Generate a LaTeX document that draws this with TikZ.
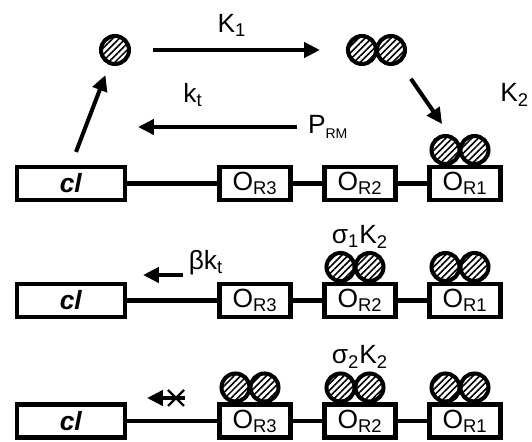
\documentclass[tikz,border=0pt]{standalone}
\usepackage{fontspec}
\setmainfont{Liberation Sans}
\usetikzlibrary{arrows.meta,patterns.meta}

% two beads sitting on top of a box
\newcommand{\dimeron}[2]{%
\coordinate (#1) at ([xshift=-0.1cm,yshift=0.3cm]#2.north);
\node[bead] (#1a) at ([xshift=-0.29cm]#1) {};
\node[bead] (#1b) at ([xshift=0.29cm]#1) {};}

\begin{document}
\begin{tikzpicture}[x=0.02cm, y=-0.02cm, line width=2.3pt,
  every node/.style={font=\fontsize{15}{18}\selectfont},
  box/.style={draw,rectangle,minimum width=1.42cm,minimum height=0.66cm,inner sep=0pt},
  long box/.style={box,minimum width=2.16cm},
  bead/.style={circle,draw,minimum size=0.56cm,inner sep=0pt,pattern={Lines[angle=45,distance=2.6pt,line width=0.9pt]}},
  arr/.style={-{Triangle[length=9pt,width=8.5pt]}}]
\useasboundingbox (0,0) rectangle (532,442);

\begin{scope}
\node[long box] (cl1) at (71,183.5) {\textbf{\textit{cl}}};
\node[box] (or31) at (255,183.5) {O\textsubscript{R3}};
\node[box] (or21) at (360,183.5) {O\textsubscript{R2}};
\node[box] (or11) at (465,183.5) {O\textsubscript{R1}};
\node[long box] (cl2) at (71,300.5) {\textbf{\textit{cl}}};
\node[box] (or32) at (255,300.5) {O\textsubscript{R3}};
\node[box] (or22) at (360,300.5) {O\textsubscript{R2}};
\node[box] (or12) at (465,300.5) {O\textsubscript{R1}};
\node[long box] (cl3) at (71,421) {\textbf{\textit{cl}}};
\node[box] (or33) at (255,421) {O\textsubscript{R3}};
\node[box] (or23) at (360,421) {O\textsubscript{R2}};
\node[box] (or13) at (465,421) {O\textsubscript{R1}};
\end{scope}

\begin{scope}
\draw (cl1) -- (or31); \draw (or31) -- (or21); \draw (or21) -- (or11);
\draw (cl2) -- (or32); \draw (or32) -- (or22); \draw (or22) -- (or12);
\draw (cl3) -- (or33); \draw (or33) -- (or23); \draw (or23) -- (or13);
\end{scope}

\node[bead] (mono) at (115,50) {};
\node[bead] (di1) at (362,50) {};
\node[bead] (di2) at (391,50) {};
\dimeron{p1}{or11}
\dimeron{p2}{or22}
\dimeron{q2}{or12}
\dimeron{p3}{or33}
\dimeron{q3}{or23}
\dimeron{r3}{or13}

\draw[arr, shorten <=0.46cm, shorten >=0.52cm] (mono) -- (di1);
\draw[arr, shorten <=0.38cm, shorten >=0.63cm] (di2) -- (p1);
\draw[arr, shorten <=0.28cm, shorten >=0.24cm] (cl1.north) -- (mono);

\coordinate (kt tail) at (297,127);
\coordinate (kt head) at (138,127);
\draw[arr] (kt tail) -- (kt head);
\coordinate (bkt tail) at (183,275);
\coordinate (bkt head) at (143,275);
\draw[arr] (bkt tail) -- (bkt head);
\coordinate (blk tail) at (185,398);
\coordinate (blk head) at (147,398);
\draw[arr] (blk tail) -- (blk head);
\coordinate (cross) at (176,398);
\draw[line width=1.4pt] ([shift={(-8,-8)}]cross) -- ([shift={(8,8)}]cross);
\draw[line width=1.4pt] ([shift={(-8,8)}]cross) -- ([shift={(8,-8)}]cross);

\node (k1) at (232,25) {K\textsubscript{1}};
\node[anchor=east,inner sep=0pt] (k2) at (531,95) {K\textsubscript{2}};
\node (kt) at (193,95) {k\textsubscript{t}};
\node[anchor=west,inner sep=0pt] (prm) at (306,127) {P\raisebox{-0.35ex}{\fontsize{8}{9}\selectfont RM}};
\node (bkt) at (206,263) {βk\textsubscript{t}};
\node (s1k2) at (360,237) {σ\textsubscript{1}K\textsubscript{2}};
\node (s2k2) at (360,357) {σ\textsubscript{2}K\textsubscript{2}};
\end{tikzpicture}
\end{document}
